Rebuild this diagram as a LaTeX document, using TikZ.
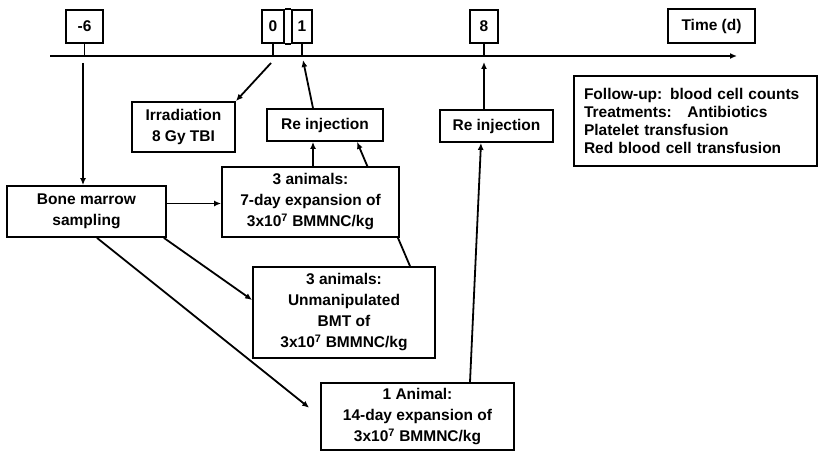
\documentclass[tikz,border=0pt]{standalone}
\usepackage{fontspec}
\setmainfont{Liberation Sans}
\usetikzlibrary{arrows.meta,backgrounds}

\tikzset{
  box/.style = {draw, line width=1.8pt, fill=white, align=center, inner sep=2pt,
    font=\bfseries\fontsize{15.5}{21}\selectfont},
  arr/.style = {line width=1.8pt, -{Latex[length=7pt,width=6pt]}},
  ln/.style = {line width=1.8pt}
}

\begin{document}
\begin{tikzpicture}[x=1pt, y=-1pt]
\useasboundingbox (0, 0) rectangle (819, 452);
% time axis
\coordinate (tl) at (50, 56);
\coordinate (tr) at (737, 56);
\draw [arr] (tl) -- (tr);
\node (tm6) at (84.5, 26.5) [box, minimum width=37pt, minimum height=33pt] {-6};
\node (t0) at (273, 26.5) [box, minimum width=22pt, minimum height=33pt] {0};
\node (t1) at (302, 26.5) [box, minimum width=20pt, minimum height=33pt] {1};
\node (t8) at (484, 26.5) [box, minimum width=28pt, minimum height=33pt] {8};
\node (time) at (711.5, 26) [box, minimum width=87pt, minimum height=34pt] {Time (d)};
\draw [ln] (t0.north east) -- (t1.north west);
\draw [ln] (t0.south east) -- (t1.south west);
\foreach \t in {tm6, t0, t1, t8}
  \draw [ln] (\t.south) -- (\t.south |- tl);
\node (info) at (695.5, 121) [box, minimum width=243pt, minimum height=90pt,
  align=left, text width=223pt, font=\bfseries\fontsize{15.5}{18}\selectfont]
  {Follow-up: blood cell counts\\Treatments:\quad Antibiotics\\Platelet transfusion\\Red blood cell transfusion};
% boxes
\node (irr) at (183.5, 127) [box, minimum width=103pt, minimum height=50pt] {Irradiation\\8 Gy TBI};
\node (rein1) at (325, 125) [box, minimum width=116pt, minimum height=32pt] {Re injection};
\node (rein2) at (496.5, 126) [box, minimum width=113pt, minimum height=32pt] {Re injection};
\node (bm) at (86.5, 211.5) [box, minimum width=159pt, minimum height=51pt] {Bone marrow\\sampling};
\node (seven) at (310.5, 202) [box, minimum width=177pt, minimum height=70pt]
  {3 animals:\\7-day expansion of\\3x10\textsuperscript{7} BMMNC/kg};
\node (bmt) at (344, 312.5) [box, minimum width=182pt, minimum height=91pt]
  {3 animals:\\Unmanipulated\\BMT of\\3x10\textsuperscript{7} BMMNC/kg};
\node (fourteen) at (417.5, 416.5) [box, minimum width=193pt, minimum height=67pt]
  {1 Animal:\\14-day expansion of\\3x10\textsuperscript{7} BMMNC/kg};
% arrows
\coordinate (c0) at (271, 63);
\coordinate (c1) at (303, 60);
\coordinate (c6) at (83, 63);
\coordinate (c8) at (484, 62);
\draw [arr] (c0) -- (irr.north east);
\draw [arr] ([xshift=-12pt]rein1.north) -- (c1);
\draw [arr] (c6) -- (c6 |- bm.north);
\draw [arr] ([yshift=8pt]bm.east) -- ([yshift=8pt]bm.east -| seven.west);
\draw [arr] ([xshift=2.5pt]seven.north) -- ([xshift=2.5pt]seven.north |- rein1.south);
\begin{scope}[on background layer]
\draw [arr] ([xshift=66pt]bmt.north) -- ([xshift=32pt]rein1.south);
\end{scope}
\draw [arr] ([xshift=-3pt]bm.south east) -- ([yshift=12.5pt]bmt.west);
\draw [arr, shorten >=14pt] ([xshift=10.5pt]bm.south) -- (fourteen.west);
\draw [arr] ([xshift=52.5pt]fourteen.north) -- ([xshift=-15.5pt]rein2.south);
\draw [arr] ([xshift=-12.5pt]rein2.north) -- (c8);
%\draw [dashed] (bm.east) -- (seven.west);
\end{tikzpicture}
\end{document}
